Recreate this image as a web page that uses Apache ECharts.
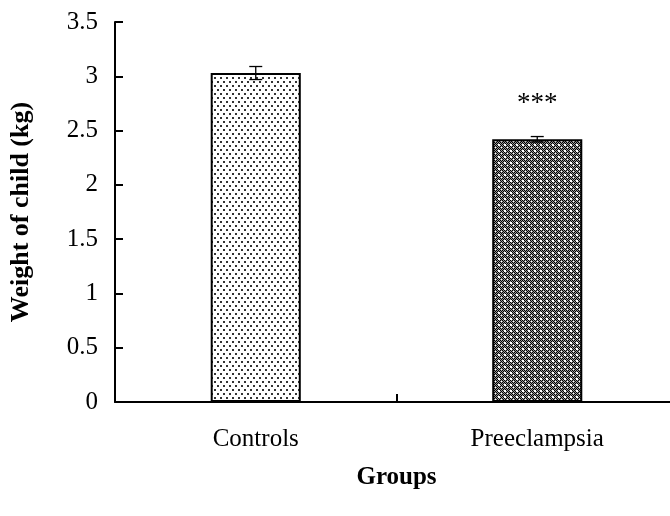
<!DOCTYPE html>
<html>
<head>
<meta charset="utf-8">
<script src="https://cdn.jsdelivr.net/npm/echarts@6/dist/echarts.min.js"></script>
<style>
  html, body { margin: 0; padding: 0; background: #fff; overflow: hidden; }
  /* the plot's x axis runs a little past the right edge of the window */
  #chart { width: 680px; height: 516px; }
</style>
</head>
<body>
<div id="chart"></div>
<script>
// Birth weight by group (mean ± SEM)
const groups = ['Controls', 'Preeclampsia'];
const weights = [3.03, 2.42];
const errors = [0.06, 0.025];
const significance = ['', '***'];
const yTicks = [0, 0.5, 1, 1.5, 2, 2.5, 3, 3.5];

// Sparse dotted fill for the control bar
function dottedPattern() {
  const c = document.createElement('canvas');
  c.width = 6; c.height = 8;
  const g = c.getContext('2d');
  g.fillStyle = '#fff';
  g.fillRect(0, 0, 6, 8);
  g.fillStyle = '#333';
  g.fillRect(1, 1, 2, 2);
  g.fillRect(4, 5, 2, 2);
  return c;
}

// Dense checkered fill with light spots for the preeclampsia bar
function checkerPattern() {
  const c = document.createElement('canvas');
  c.width = 6; c.height = 6;
  const g = c.getContext('2d');
  g.fillStyle = '#9a9a9a';
  g.fillRect(0, 0, 6, 6);
  g.fillStyle = '#000';
  for (let y = 0; y < 6; y++) {
    for (let x = 0; x < 6; x++) {
      if ((x + y) % 2 === 0) g.fillRect(x, y, 1, 1);
    }
  }
  g.fillStyle = '#fff';
  g.fillRect(0, 0, 2, 2);
  g.fillRect(3, 3, 1, 1);
  return c;
}

const fills = [dottedPattern(), checkerPattern()];
const serif = '"Liberation Serif", "Times New Roman", serif';

const chart = echarts.init(document.getElementById('chart'), null, { renderer: 'canvas' });

chart.setOption({
  animation: false,
  backgroundColor: '#fff',
  grid: { left: 115, right: 2, top: 22, bottom: 114, containLabel: false },
  xAxis: {
    type: 'category',
    data: groups,
    name: 'Groups',
    nameLocation: 'middle',
    nameGap: 63,
    nameTextStyle: { fontFamily: serif, fontSize: 25, fontWeight: 'bold', color: '#000' },
    axisLine: { lineStyle: { color: '#000', width: 2 } },
    axisTick: {
      show: true, interval: 0, alignWithLabel: false,
      inside: true, length: 8, lineStyle: { color: '#000', width: 2 }
    },
    axisLabel: { fontFamily: serif, fontSize: 25, color: '#000', margin: 25 }
  },
  yAxis: {
    type: 'value',
    min: 0,
    max: 3.5,
    interval: 0.5,
    name: 'Weight of child (kg)',
    nameLocation: 'middle',
    nameGap: 81,
    nameTextStyle: { fontFamily: serif, fontSize: 26, fontWeight: 'bold', color: '#000' },
    axisLine: { show: true, lineStyle: { color: '#000', width: 2 } },
    axisTick: { show: true, inside: true, length: 8, lineStyle: { color: '#000', width: 2 } },
    axisLabel: {
      fontFamily: serif, fontSize: 25, color: '#000', margin: 17,
      formatter: v => (yTicks.includes(v) ? String(v) : '')
    },
    splitLine: { show: false }
  },
  series: [
    {
      type: 'bar',
      barWidth: '32%',
      data: weights.map((v, i) => ({
        value: v,
        itemStyle: {
          color: { image: fills[i], repeat: 'repeat' },
          borderColor: '#000',
          borderWidth: 2
        }
      })),
      label: {
        show: true,
        position: 'top',
        distance: 22,
        formatter: p => significance[p.dataIndex],
        fontFamily: serif,
        fontSize: 27,
        color: '#000'
      }
    },
    {
      type: 'custom',
      z: 5,
      data: weights.map((v, i) => [i, v - errors[i], v + errors[i]]),
      renderItem: (params, api) => {
        const lo = api.coord([api.value(0), api.value(1)]);
        const hi = api.coord([api.value(0), api.value(2)]);
        const half = 6.5;
        const style = { stroke: '#000', lineWidth: 1.3 };
        return {
          type: 'group',
          children: [
            { type: 'line', shape: { x1: lo[0], y1: lo[1], x2: hi[0], y2: hi[1] }, style },
            { type: 'line', shape: { x1: hi[0] - half, y1: hi[1], x2: hi[0] + half, y2: hi[1] }, style },
            { type: 'line', shape: { x1: lo[0] - half, y1: lo[1], x2: lo[0] + half, y2: lo[1] }, style }
          ]
        };
      }
    }
  ]
});
</script>
</body>
</html>
